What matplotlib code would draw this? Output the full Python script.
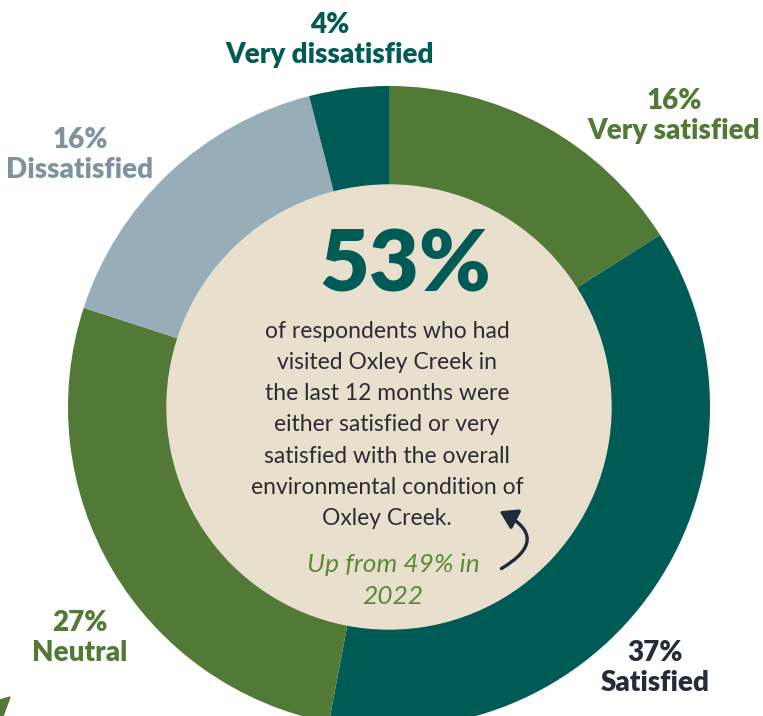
import matplotlib.pyplot as plt
from matplotlib.patches import Circle, FancyArrowPatch

# survey result, clockwise from 12 o'clock
categories = ["Very satisfied", "Satisfied", "Neutral", "Dissatisfied", "Very dissatisfied"]
shares = [16, 37, 27, 16, 4]
seg_colors = ["#527a36", "#005a55", "#527a36", "#97aeb8", "#005a55"]
label_colors = ["#527a36", "#262b3a", "#527a36", "#7d949e", "#005a55"]
label_pos = [(674, 116), (655, 668), (80, 638), (80, 155), (330, 40)]

headline = "53%"
body_lines = ["of respondents who had", "visited Oxley Creek in", "the last 12 months were",
              "either satisfied or very", "satisfied with the overall",
              "environmental condition of", "Oxley Creek."]
note_lines = ["Up from 49% in", "2022"]

W, H = 763, 716
fig = plt.figure(figsize=(W / 100, H / 100), dpi=100)
ax = fig.add_axes([0, 0, 1, 1])

cx, cy = 389, H - 407
R, r = 321, 222

ax.pie(shares, colors=seg_colors, startangle=90, counterclock=False,
       radius=R, center=(cx, cy), wedgeprops=dict(width=R - r, edgecolor="none"))
ax.add_patch(Circle((cx, cy), r, color="#e8e0cc", zorder=3))

for cat, val, col, (x, y) in zip(categories, shares, label_colors, label_pos):
    ax.text(x, H - y, f"{val}%\n{cat}", color=col, fontsize=20, fontweight="heavy",
            family="Lato", ha="center", va="center", linespacing=1.18)

ax.text(405, H - 267, headline, color="#005a55", fontsize=62, fontweight="heavy",
        family="Lato", ha="center", va="center", zorder=4)

for i, line in enumerate(body_lines):
    ax.text(387, H - (331 + i * 31.3), line, color="#2b2b33", fontsize=16.5,
            family="Lato", ha="center", va="center", zorder=4)

for i, line in enumerate(note_lines):
    ax.text(393, H - (564 + i * 32), line, color="#5b8a3a", fontsize=19,
            family="Lato", style="italic", ha="center", va="center", zorder=4)

ax.add_patch(FancyArrowPatch((499, H - 570), (497, H - 510),
                             connectionstyle="arc3,rad=0.95",
                             arrowstyle="-|>,head_length=0.8,head_width=0.5",
                             mutation_scale=13, lw=2.4, color="#1f2a3a", zorder=5))

# bit of the next graphic peeking in at the corner
ax.fill([0, 10, 3, 0], [H - 700, H - 697, 0, 0], color="#527a36")

ax.set_xlim(0, W)
ax.set_ylim(0, H)
ax.set_aspect("equal")
ax.axis("off")

fig.savefig("out.png", dpi=100)
